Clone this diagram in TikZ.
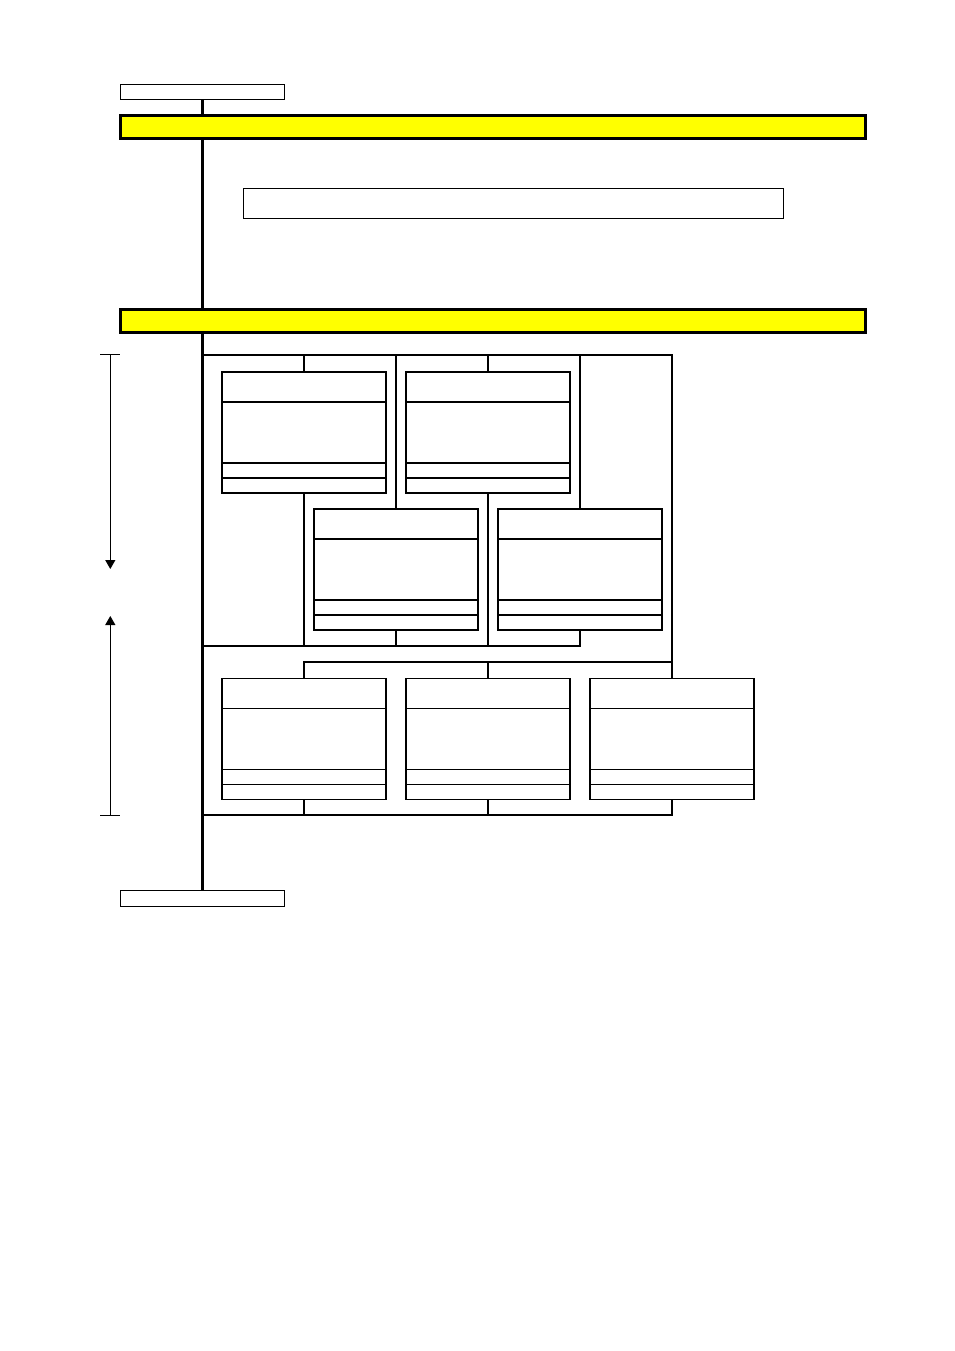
\documentclass[tikz,border=0pt]{standalone}
\usetikzlibrary{arrows.meta,calc}
\definecolor{BandClr}{rgb}{1,1,0}

\begin{document}
\begin{tikzpicture}[x=0.75pt,y=-0.75pt,
  band/.style={draw,fill=BandClr,line width=2.25pt,minimum width=558.5pt,minimum height=16.9pt,inner sep=0pt},
  tagbox/.style={draw,line width=1pt,minimum width=122.6pt,minimum height=11.25pt,inner sep=0pt},
  notebox/.style={draw,line width=0.9pt,minimum width=405.2pt,minimum height=22.6pt,inner sep=0pt},
  card/.style={draw,line width=0.9pt,minimum width=123pt,minimum height=90.75pt,inner sep=0pt,outer sep=0pt},
  spine/.style={line width=2.25pt},
  frame/.style={line width=1.5pt},
  dim/.style={line width=0.75pt}]
\useasboundingbox (0,0) rectangle (954,1351);

\node[tagbox] (top) at (202.5,92) {};
\node[band] (band1) at (492.9,126.75) {};
\node[notebox] (note) at (513.4,203.2) {};
\node[band] (band2) at (492.9,320.8) {};
\node[tagbox,minimum height=12.3pt] (bot) at (202.5,898.4) {};

\foreach \n/\x/\y in {A/304/432.5,B/488/432.5,C/396/569.5,D/580/569.5,E/304/738.8,F/488/738.8,G/672/738.8}{
  \node[card] (\n) at (\x,\y) {};
  \draw[line width=0.9pt] ($(\n.north west)+(0,30)$) -- ($(\n.north east)+(0,30)$);
  \draw[line width=0.9pt] ($(\n.north west)+(0,91)$) -- ($(\n.north east)+(0,91)$);
  \draw[line width=0.9pt] ($(\n.north west)+(0,106)$) -- ($(\n.north east)+(0,106)$);
}

\coordinate (f1) at (202.5,355);
\coordinate (f2) at (672,355);
\coordinate (f3) at (202.5,646);
\coordinate (f4) at (672,662);
\coordinate (f5) at (202.5,815);
\coordinate (f6) at (672,815);

\draw[spine] (top.south) -- (top.south |- band1.north);
\draw[spine] (top.south |- band1.south) -- (top.south |- band2.north);
\draw[spine] (top.south |- band2.south) -- (bot.north);

\draw[frame] (f1) -- (f2) -- (G.north);
\draw[frame] (A.north |- f1) -- (A.north);
\draw[frame] (B.north |- f1) -- (B.north);
\draw[frame] (C.north |- f1) -- (C.north);
\draw[frame] (D.north |- f1) -- (D.north);
\draw[frame] (A.south) -- (A.south |- f3);
\draw[frame] (B.south) -- (B.south |- f3);
\draw[frame] (C.south) -- (C.south |- f3);
\draw[frame] (D.south) -- (D.south |- f3) -- (f3);
\draw[frame] (E.north) -- (E.north |- f4) -- (f4);
\draw[frame] (F.north) -- (F.north |- f4);
\draw[frame] (f5) -- (f6) -- (G.south);
\draw[frame] (E.south) -- (E.south |- f5);
\draw[frame] (F.south) -- (F.south |- f5);

\coordinate (m1) at (110.3,355);
\coordinate (m2) at (110.3,569);
\coordinate (m3) at (110.3,616);
\coordinate (m4) at (110.3,815);
\draw[dim] ($(m1)+(-10,0)$) -- ($(m1)+(10,0)$);
\draw[dim] ($(m4)+(-10,0)$) -- ($(m4)+(10,0)$);
\draw[dim,-{Triangle[length=6.75pt,width=7.5pt]}] (m1) -- (m2);
\draw[dim,-{Triangle[length=6.75pt,width=7.5pt]}] (m4) -- (m3);

\end{tikzpicture}
\end{document}
